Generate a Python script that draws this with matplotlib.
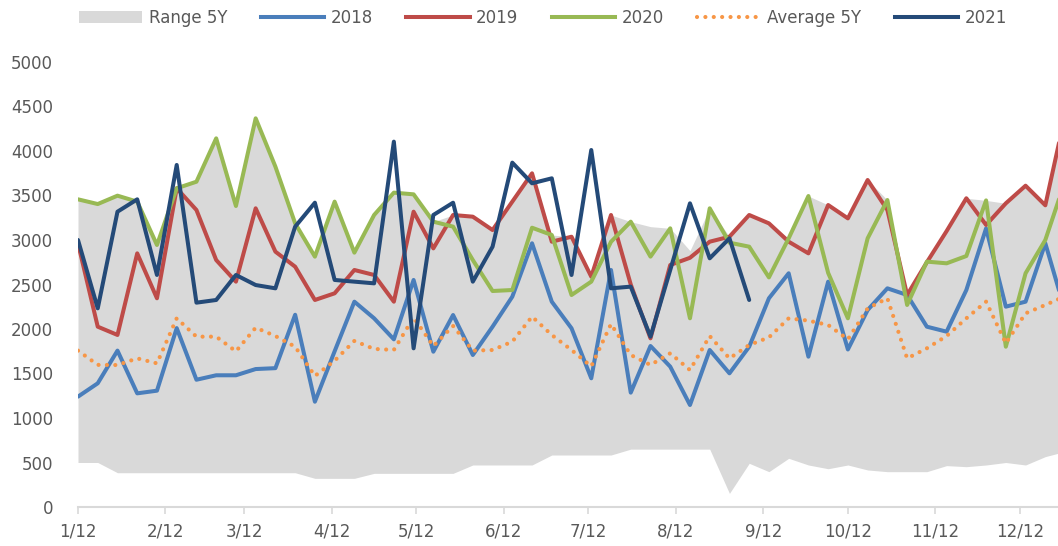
import numpy as np
import pandas as pd
import matplotlib
matplotlib.use("Agg")
import matplotlib.pyplot as plt
from matplotlib.patches import Patch
from matplotlib.lines import Line2D

# weekly points from 12 Jan
weeks = pd.date_range("2021-01-12", periods=51, freq="7D")
tick_dates = pd.date_range("2021-01-12", periods=12, freq=pd.DateOffset(months=1))
tick_labels = ["1/12", "2/12", "3/12", "4/12", "5/12", "6/12",
               "7/12", "8/12", "9/12", "10/12", "11/12", "12/12"]

y2018 = [1240, 1390, 1757, 1277, 1307, 2010, 1430, 1480, 1480, 1550,
         1560, 2160, 1183, 1750, 2307, 2120, 1884, 2551, 1745, 2157,
         1708, 2026, 2363, 2963, 2307, 2008, 1446, 2663, 1285, 1809,
         1577, 1146, 1764, 1502, 1801, 2345, 2626, 1689, 2532, 1770,
         2213, 2457, 2382, 2026, 1970, 2438, 3131, 2251, 2307, 2963, 2202]
y2019 = [2963, 2026, 1933, 2850, 2345, 3581, 3337, 2775, 2532, 3356,
         2869, 2700, 2326, 2401, 2663, 2607, 2307, 3318, 2906, 3281,
         3262, 3112, 3431, 3749, 2981, 3037, 2588, 3281, 2500, 1895,
         2719, 2800, 2981, 3037, 3281, 3187, 2981, 2850, 3393, 3243,
         3674, 3337, 2382, 2750, 3100, 3469, 3169, 3412, 3610, 3390, 4400]
y2020 = [3457, 3404, 3498, 3431, 2944, 3581, 3655, 4142, 3382, 4367,
         3824, 3187, 2813, 3431, 2858, 3281, 3532, 3513, 3206, 3150,
         2775, 2427, 2438, 3138, 3056, 2382, 2532, 2980, 3206, 2813,
         3131, 2120, 3356, 2970, 2925, 2580, 3019, 3494, 2630, 2120,
         3019, 3449, 2270, 2757, 2738, 2820, 3445, 1801, 2626, 3000, 3660]
y2021 = [3000, 2232, 3318, 3457, 2607, 3843, 2296, 2326, 2607, 2494,
         2457, 3150, 3419, 2551, 2532, 2513, 4105, 1783, 3281, 3419,
         2532, 2925, 3869, 3637, 3693, 2607, 4011, 2457, 2476, 1914,
         2663, 3412, 2794, 3019, 2326]
avg5y = [1757, 1597, 1595, 1670, 1614, 2120, 1914, 1914, 1749, 2015,
         1921, 1801, 1472, 1644, 1866, 1776, 1765, 2130, 1808, 2034,
         1757, 1764, 1858, 2139, 1933, 1764, 1580, 2056, 1708, 1596,
         1727, 1539, 1921, 1670, 1820, 1906, 2120, 2094, 2045, 1884,
         2232, 2345, 1670, 1783, 1921, 2120, 2307, 1840, 2176, 2270, 2368]
range_hi = [3457, 3404, 3498, 3431, 2944, 3581, 3655, 4142, 3382, 4367,
            3824, 3187, 2813, 3431, 2858, 3281, 3532, 3513, 3206, 3281,
            3262, 3112, 3431, 3749, 3056, 3037, 2588, 3281, 3206, 3150,
            3131, 2880, 3356, 3037, 3281, 3187, 3019, 3494, 3393, 3243,
            3674, 3449, 2401, 2757, 3100, 3469, 3445, 3412, 3610, 3390, 4400]
range_lo = [500, 500, 385, 385, 385, 385, 385, 385, 385, 385,
            385, 385, 322, 322, 322, 378, 378, 378, 378, 378,
            472, 472, 472, 472, 584, 584, 584, 584, 650, 650,
            650, 650, 650, 153, 491, 397, 547, 472, 430, 472,
            416, 397, 397, 397, 465, 453, 472, 500, 472, 566, 624]

W, H = 1058, 546
fig = plt.figure(figsize=(W / 100, H / 100), dpi=100)
ax = fig.add_axes([78 / W, 39 / H, 980 / W, 445 / H])

txt = "#595959"
ax.fill_between(weeks, range_lo, range_hi, color="#D9D9D9", lw=0)
kw = dict(lw=2.9, solid_joinstyle="round", solid_capstyle="round")
ax.plot(weeks, y2018, color="#4A7EBB", **kw)
ax.plot(weeks, y2019, color="#BE4B48", **kw)
ax.plot(weeks, y2020, color="#98B954", **kw)
ax.plot(weeks, avg5y, color="#F79646", lw=3, linestyle=(0, (0.01, 2)),
        dash_capstyle="round")
ax.plot(weeks[:len(y2021)], y2021, color="#244A78", **kw)

ax.set_ylim(0, 5000)
ax.set_yticks(np.arange(0, 5001, 500))
ax.set_xlim(weeks[0], weeks[0] + pd.Timedelta(days=347.5))
ax.set_xticks(tick_dates)
ax.set_xticklabels(tick_labels)

for s in ["left", "top", "right"]:
    ax.spines[s].set_visible(False)
ax.spines["bottom"].set_color("#D9D9D9")
ax.spines["bottom"].set_linewidth(1.5)
ax.tick_params(axis="y", length=0, pad=18, labelsize=12, labelcolor=txt)
ax.tick_params(axis="x", length=5, width=1.2, color="#D9D9D9", pad=6,
               labelsize=12, labelcolor=txt)

handles = [
    Patch(facecolor="#D9D9D9", edgecolor="none"),
    Line2D([], [], color="#4A7EBB", lw=2.9),
    Line2D([], [], color="#BE4B48", lw=2.9),
    Line2D([], [], color="#98B954", lw=2.9),
    Line2D([], [], color="#F79646", lw=3, linestyle=(0, (0.01, 2)), dash_capstyle="round"),
    Line2D([], [], color="#244A78", lw=2.9),
]
labels = ["Range 5Y", "2018", "2019", "2020", "Average 5Y", "2021"]
fig.legend(handles, labels, loc="center", bbox_to_anchor=(543 / W, 1 - 18 / H),
           ncol=6, frameon=False, fontsize=12, labelcolor=txt,
           handlelength=3.8, handletextpad=0.4, columnspacing=2.0)

fig.savefig("out.png", dpi=100)
